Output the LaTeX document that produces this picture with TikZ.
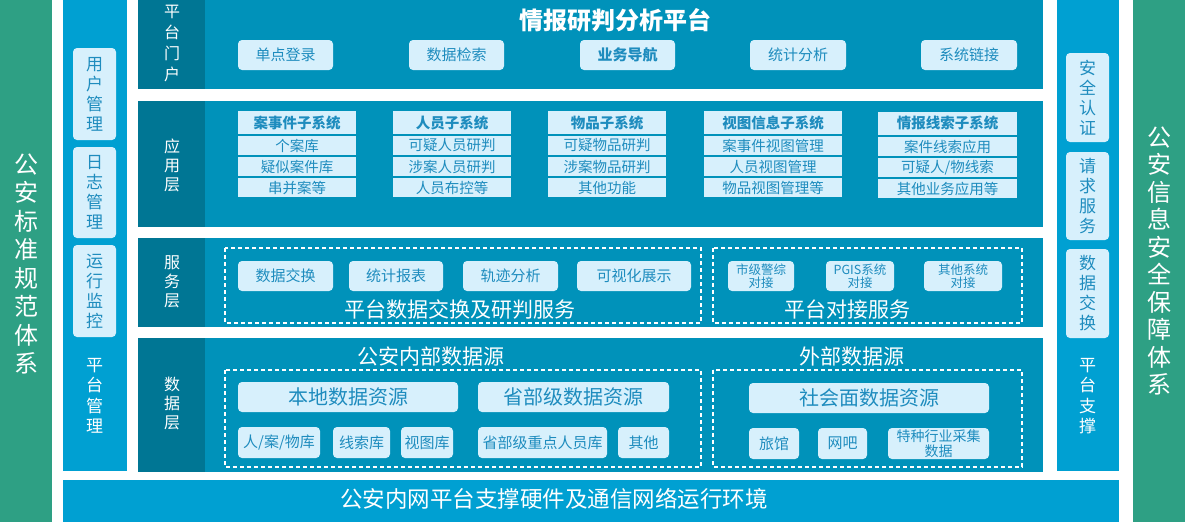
\documentclass[tikz,border=0pt]{standalone}
\usepackage{fontspec}
\setmainfont{Noto Sans CJK SC}
\definecolor{gbar}{HTML}{2EA084}
\definecolor{bcol}{HTML}{00A0D2}
\definecolor{mainbg}{HTML}{0092BA}
\definecolor{strip}{HTML}{007694}
\definecolor{pill}{HTML}{D7F0FC}
\definecolor{pilltxt}{HTML}{1E8CBE}
\usetikzlibrary{positioning}
\begin{document}
\begin{tikzpicture}[x=1pt,y=-1pt,
  btn/.style={fill=pill,rounded corners=4pt,text=pilltxt,inner sep=0pt,align=center,font=\fontsize{15}{16}\selectfont},
  smallbtn/.style={btn,font=\fontsize{12.5}{13.5}\selectfont},
  bigbtn/.style={btn,font=\fontsize{20}{22}\selectfont},
  vpill/.style={btn,minimum width=43pt,font=\fontsize{17}{20}\selectfont},
  cell/.style={fill=pill,text=pilltxt,inner sep=0pt,minimum height=19pt,font=\fontsize{14.5}{15}\selectfont},
  head/.style={cell,minimum height=23pt,font=\fontsize{14.5}{15}\selectfont\bfseries},
  vtext/.style={text=white,align=center,inner sep=0pt,font=\fontsize{17}{20}\selectfont},
  bigtext/.style={text=white,inner sep=0pt,font=\fontsize{21}{23}\selectfont},
  frame/.style={draw=white,line width=1.2pt,dash pattern=on 4pt off 3pt}]
\useasboundingbox[fill=white] (0,0) rectangle (1185,522);
% side columns
\fill[gbar] (0,0) rectangle (52,522);
\fill[gbar] (1133,0) rectangle (1185,522);
\fill[bcol] (63,0) rectangle (127,471);
\fill[bcol] (1057,0) rectangle (1119,471);
\fill[bcol] (63,480) rectangle (1119,522);
\node[vtext,font=\fontsize{24}{28.5}\selectfont] (std) at (26,264) {公\\安\\标\\准\\规\\范\\体\\系};
\node[vtext,font=\fontsize{24}{27.5}\selectfont] (sec) at (1159,261) {公\\安\\信\\息\\安\\全\\保\\障\\体\\系};
\node[text=white,inner sep=0pt,font=\fontsize{22.5}{24}\selectfont] (env) at (554,499) {公安内网平台支撑硬件及通信网络运行环境};
% platform management
\node[vpill,minimum height=92pt] (user) at (94.5,94) {用\\户\\管\\理};
\node[vpill,minimum height=91pt] (log) at (94.5,192.5) {日\\志\\管\\理};
\node[vpill,minimum height=92pt] (mon) at (94.5,291) {运\\行\\监\\控};
\node[vtext,font=\fontsize{17}{20.5}\selectfont] (mgmt) at (94.5,396) {平\\台\\管\\理};
% platform support
\node[vpill,minimum height=89pt] (auth) at (1087.5,97.5) {安\\全\\认\\证};
\node[vpill,minimum height=88pt] (req) at (1087.5,196) {请\\求\\服\\务};
\node[vpill,minimum height=89pt] (exch) at (1087.5,293.5) {数\\据\\交\\换};
\node[vtext,font=\fontsize{17}{20.5}\selectfont] (supp) at (1087.5,396) {平\\台\\支\\撑};
% layers
\fill[mainbg] (138,0) rectangle (1043,89);
\fill[mainbg] (138,101) rectangle (1043,227);
\fill[mainbg] (138,238) rectangle (1043,327);
\fill[mainbg] (138,338) rectangle (1043,472);
\fill[strip] (138,0) rectangle (205,89);
\fill[strip] (138,101) rectangle (205,227);
\fill[strip] (138,238) rectangle (205,327);
\fill[strip] (138,338) rectangle (205,472);
\node[vtext,font=\fontsize{16}{21}\selectfont] (portal) at (172,44) {平\\台\\门\\户};
\node[vtext,font=\fontsize{16}{19}\selectfont] (app) at (172,165) {应\\用\\层};
\node[vtext,font=\fontsize{16}{19}\selectfont] (srv) at (172,282) {服\\务\\层};
\node[vtext,font=\fontsize{16}{19}\selectfont] (dat) at (172,403) {数\\据\\层};
% portal
\node[text=white,inner sep=0pt,font=\fontsize{24}{26}\selectfont\bfseries] (title) at (615,20) {情报研判分析平台};
\node[btn,minimum width=95pt,minimum height=30pt] (sso) at (285.5,55) {单点登录};
\node[btn,minimum width=95pt,minimum height=30pt] (search) at (456.5,55) {数据检索};
\node[btn,minimum width=95pt,minimum height=30pt,font=\fontsize{15}{16}\selectfont\bfseries] (nav) at (627.5,55) {业务导航};
\node[btn,minimum width=96pt,minimum height=30pt] (stat) at (798,55) {统计分析};
\node[btn,minimum width=96pt,minimum height=30pt] (link) at (969,55) {系统链接};
% application subsystems
\node[head,minimum width=118pt] (case) at (297,122.5) {案事件子系统};
\node[cell,minimum width=118pt] (case1) at (297,145.5) {个案库};
\node[cell,minimum width=118pt] (case2) at (297,166.5) {疑似案件库};
\node[cell,minimum width=118pt] (case3) at (297,187.5) {串并案等};
\node[head,minimum width=118pt] (pers) at (452,122.5) {人员子系统};
\node[cell,minimum width=118pt] (pers1) at (452,145.5) {可疑人员研判};
\node[cell,minimum width=118pt] (pers2) at (452,166.5) {涉案人员研判};
\node[cell,minimum width=118pt] (pers3) at (452,187.5) {人员布控等};
\node[head,minimum width=118pt] (item) at (607,122.5) {物品子系统};
\node[cell,minimum width=118pt] (item1) at (607,145.5) {可疑物品研判};
\node[cell,minimum width=118pt] (item2) at (607,166.5) {涉案物品研判};
\node[cell,minimum width=118pt] (item3) at (607,187.5) {其他功能};
\node[head,minimum width=138pt] (view) at (773,122.5) {视图信息子系统};
\node[cell,minimum width=138pt] (view1) at (773,145.5) {案事件视图管理};
\node[cell,minimum width=138pt] (view2) at (773,166.5) {人员视图管理};
\node[cell,minimum width=138pt] (view3) at (773,187.5) {物品视图管理等};
\node[head,minimum width=139pt] (clue) at (947.5,123) {情报线索子系统};
\node[cell,minimum width=139pt] (clue1) at (947.5,146.5) {案件线索应用};
\node[cell,minimum width=139pt] (clue2) at (947.5,167.5) {可疑人/物线索};
\node[cell,minimum width=139pt] (clue3) at (947.5,188.5) {其他业务应用等};
% services
\draw[frame] (225,248) rectangle (701,323);
\draw[frame] (713,248) rectangle (1022,323);
\node[btn,minimum width=95pt,minimum height=30pt] (dx) at (285.5,276) {数据交换};
\node[btn,minimum width=94pt,minimum height=30pt] (rep) at (396,276) {统计报表};
\node[btn,minimum width=95pt,minimum height=30pt] (track) at (510.5,276) {轨迹分析};
\node[btn,minimum width=114pt,minimum height=30pt] (vis) at (634,276) {可视化展示};
\node[bigtext] (svc) at (460,309) {平台数据交换及研判服务};
\node[smallbtn,minimum width=66pt,minimum height=30pt] (city) at (761,276) {市级警综\\对接};
\node[smallbtn,minimum width=68pt,minimum height=30pt] (pgis) at (860,276) {PGIS系统\\对接};
\node[smallbtn,minimum width=78pt,minimum height=30pt] (other) at (963,276) {其他系统\\对接};
\node[bigtext] (dock) at (847,309) {平台对接服务};
% data sources
\node[bigtext] (inner) at (431,357) {公安内部数据源};
\node[bigtext] (outer) at (852,357) {外部数据源};
\draw[frame] (225,370) rectangle (701,467);
\draw[frame] (713,370) rectangle (1022,467);
\node[bigbtn,minimum width=220pt,minimum height=30pt] (local) at (348,397) {本地数据资源};
\node[bigbtn,minimum width=191pt,minimum height=30pt] (prov) at (573.5,397) {省部级数据资源};
\node[btn,minimum width=82pt,minimum height=31pt] (pcm) at (279,442.5) {人/案/物库};
\node[btn,minimum width=57pt,minimum height=31pt] (cluedb) at (361.5,442.5) {线索库};
\node[btn,minimum width=52pt,minimum height=31pt] (viewdb) at (427,442.5) {视图库};
\node[btn,minimum width=129pt,minimum height=31pt] (key) at (542.5,442.5) {省部级重点人员库};
\node[btn,minimum width=51pt,minimum height=31pt] (misc) at (643.5,442.5) {其他};
\node[bigbtn,minimum width=240pt,minimum height=30pt] (social) at (869,398) {社会面数据资源};
\node[btn,minimum width=50pt,minimum height=31pt] (hotel) at (774,443.5) {旅馆};
\node[btn,minimum width=49pt,minimum height=31pt] (cafe) at (842.5,443.5) {网吧};
\node[btn,minimum width=101pt,minimum height=31pt,font=\fontsize{14}{14.5}\selectfont] (trade) at (938.5,443.5) {特种行业采集\\数据};
\end{tikzpicture}
\end{document}
